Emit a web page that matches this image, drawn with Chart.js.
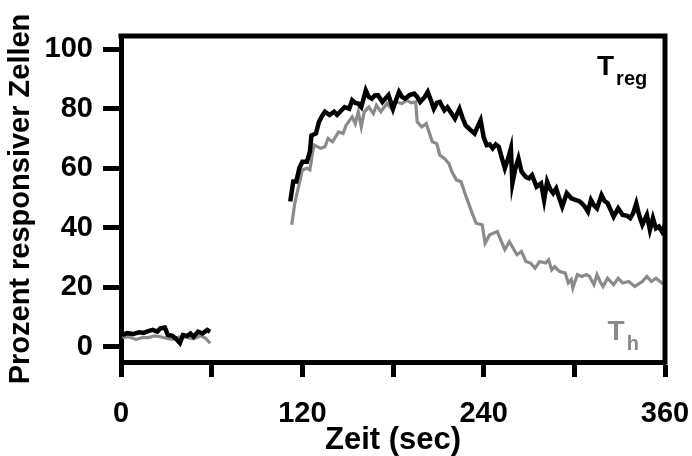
<!DOCTYPE html>
<html>
<head>
<meta charset="utf-8">
<script src="https://cdn.jsdelivr.net/npm/chart.js@4.4.1/dist/chart.umd.min.js"></script>
<style>
    body { margin: 0; background: #ffffff; }
    #chartBox { width: 692px; height: 456px; }
</style>
</head>
<body>
<div id="chartBox"><canvas id="calciumChart" width="692" height="456"></canvas></div>
<script>
// Time (sec) and percent of responsive cells
// null marks the gap between the two recording windows
var tregTime = [1, 4, 8, 12, 15, 18, 21, 24, 26, 29, 31, 34, 36, 39, 41, 44, 46, 48, 51, 54, 57, 59,
    85,
    112, 114, 116, 118, 120, 123, 125, 126, 129, 131, 133, 135, 138, 141, 143, 145, 148, 151, 153, 155,
    157, 159, 162, 164, 166, 168, 170, 173, 175, 177, 180, 182, 184, 186, 188, 191, 194, 196, 198, 201,
    203, 205, 207, 209, 211, 214, 216, 218, 221, 224, 226, 228, 231, 234, 236, 238, 240, 242, 244, 246,
    248, 250, 252, 254, 256, 258, 259, 261, 263, 265, 266, 268, 270, 272, 275, 278, 280, 282, 284, 286,
    288, 290, 292, 295, 298, 301, 303, 305, 307, 309, 311, 313, 315, 318, 320, 322, 324, 326, 329, 331,
    332, 335, 337, 339, 341, 343, 345, 348, 350, 352, 354, 356, 358, 360];
var tregValues = [3.9, 4.5, 4.2, 4.8, 4.6, 5.2, 5.6, 5.0, 6.1, 6.4, 3.9, 3.6, 2.8, 1.2, 3.9, 3.6, 4.4, 3.3, 5.0, 4.4, 5.6, 5.0,
    null,
    48.8, 55.5, 55.5, 60, 62.2, 62.2, 65.5, 71, 71.7, 75.6, 77.5, 79, 77.9, 79, 78, 79, 80.6, 80, 82.9, 82,
    81.8, 80.6, 86.2, 84, 83.4, 84.5, 84.6, 82.3, 83.5, 84.6, 80, 83, 85.7, 84, 83.4, 84.6, 85.1, 84, 82.3, 84,
    85.7, 83, 80, 82, 82.3, 79.5, 80.5, 79, 76.7, 80, 77, 74.5, 73, 71.7, 74, 76.2, 70.5, 67.8, 68, 66.7,
    68, 67.2, 63.5, 60, 63, 66.7, 54.9, 60, 63.3, 59, 58.3, 57, 56.6, 57.7, 53.8, 54.9, 49.3, 55.5, 53, 51.6,
    53.2, 50, 47.1, 51.6, 49.9, 49.3, 49, 48.2, 47, 45.4, 49.3, 47.5, 46.5, 51, 49, 48.2, 46, 43.7, 46.5, 45,
    44.3, 44, 43.2, 45, 48.2, 44, 41, 44.3, 39.3, 43.2, 39.8, 40.4, 38.7, 41];

var thTime = [1, 5, 10, 14, 18, 22, 26, 30, 34, 38, 41, 45, 48, 51, 53, 56, 59,
    85,
    113, 115, 117, 120, 123, 125, 127, 128, 132, 135, 137, 140, 144, 147, 149, 153, 155, 157, 159, 161,
    164, 167, 169, 172, 176, 179, 182, 186, 189, 192, 195, 196, 199, 202, 206, 209, 211, 214, 217, 219,
    222, 225, 228, 230, 232, 235, 239, 241, 244, 249, 254, 257, 262, 265, 268, 271, 274, 277, 281, 283,
    285, 287, 290, 294, 296, 298, 299, 302, 305, 308, 310, 313, 315, 317, 319, 322, 326, 329, 332, 336,
    340, 345, 348, 351, 354, 358, 360];
var thValues = [3, 3.3, 2.4, 3, 3, 3.6, 3.3, 2.8, 2.4, 3.2, 3.3, 2.9, 2.6, 3.2, 3.6, 2.8, 1.1,
    null,
    41, 48.2, 52.7, 59.4, 60, 59.4, 66, 67.8, 66.7, 67.2, 70, 68.9, 72.2, 71.7, 74.5, 77.3, 75, 79, 73.9, 79,
    80.6, 78.4, 81.2, 79, 81.8, 80, 82.3, 81.8, 82.9, 82, 82.3, 75.6, 73.9, 75, 68.9, 68.3, 64.4, 63.3, 61.6, 58.8,
    56, 55.5, 51, 48.2, 45.4, 41.5, 41, 34.8, 37.6, 38.7, 32.6, 35.3, 30.9, 32, 28.6, 28.1, 26.4, 28.6, 28.1, 29.2,
    25.8, 26.9, 25.3, 24.7, 21.4, 22.5, 19.7, 24.2, 23.6, 24.2, 23.6, 20.8, 24.2, 21.9, 20.2, 23, 20.8, 23, 21.4, 21.9,
    20.2, 21.9, 23.6, 21.9, 23, 21.4, 22];

// Axis ticks
var xTickStep = 60;
var xLabelStep = 120;
var yTicks = [0, 20, 40, 60, 80, 100];

// Labels written inside the plot: main letter, subscript, colour, position in data units
var seriesLabels = [
    { main: "T", sub: "reg", color: "#000000", x: 315, y: 91.5 },
    { main: "T", sub: "h", color: "#8a8a8a", x: 322, y: 2.2 }
];

var fontFamily = "'Liberation Sans', Arial, Helvetica, sans-serif";

function toPoints(times, values)
{
    return times.map(function(t, i) {
        return { x: t, y: values[i] };
    });
}

// Draws the top and right sides of the frame and the T labels
var frameAndLabels = {
    id: 'frameAndLabels',
    afterDraw: function(chart) {
        var ctx = chart.ctx;
        var area = chart.chartArea;
        var xScale = chart.scales.x;
        var yScale = chart.scales.y;

        ctx.save();
        ctx.strokeStyle = "#000000";
        ctx.lineWidth = 5;
        ctx.lineCap = "square";
        ctx.beginPath();
        ctx.moveTo(area.left, area.top);
        ctx.lineTo(area.right, area.top);
        ctx.lineTo(area.right, area.bottom);
        ctx.stroke();

        seriesLabels.forEach(function(label) {
            var px = xScale.getPixelForValue(label.x);
            var py = yScale.getPixelForValue(label.y);
            ctx.fillStyle = label.color;
            ctx.textBaseline = "alphabetic";
            ctx.textAlign = "left";
            ctx.font = "bold 28px " + fontFamily;
            ctx.fillText(label.main, px, py);
            var w = ctx.measureText(label.main).width;
            ctx.font = "bold 20px " + fontFamily;
            ctx.fillText(label.sub, px + w + 2, py + 10);
        });
        ctx.restore();
    }
};

var ctx = document.getElementById("calciumChart").getContext("2d");

var calciumChart = new Chart(ctx, {
    type: 'line',
    data: {
        datasets: [
            {
                label: 'Treg',
                data: toPoints(tregTime, tregValues),
                borderColor: '#000000',
                borderWidth: 4.5,
                pointRadius: 0,
                tension: 0,
                spanGaps: false,
                order: 0
            },
            {
                label: 'Th',
                data: toPoints(thTime, thValues),
                borderColor: '#8a8a8a',
                borderWidth: 3.2,
                pointRadius: 0,
                tension: 0,
                spanGaps: false,
                order: 1
            }
        ]
    },
    options: {
        responsive: false,
        animation: false,
        devicePixelRatio: 1,
        layout: {
            padding: { top: 36, right: 27, left: 0, bottom: 0 }
        },
        plugins: {
            legend: { display: false },
            tooltip: { enabled: false }
        },
        scales: {
            x: {
                type: 'linear',
                min: 0,
                max: 360,
                afterFit: function(scale) {
                    scale.height = 94;
                    scale.paddingLeft = 0;
                    scale.paddingRight = 0;
                },
                border: { display: true, color: '#000000', width: 5 },
                grid: {
                    drawOnChartArea: false,
                    drawTicks: true,
                    tickLength: 15,
                    tickWidth: 5,
                    tickColor: '#000000'
                },
                ticks: {
                    stepSize: xTickStep,
                    color: '#000000',
                    padding: 20,
                    maxRotation: 0,
                    autoSkip: false,
                    font: { family: fontFamily, size: 29, weight: 'bold' },
                    callback: function(value) {
                        return value % xLabelStep === 0 ? String(value) : '';
                    }
                },
                title: {
                    display: true,
                    text: 'Zeit (sec)',
                    color: '#000000',
                    padding: { top: 0, bottom: 0 },
                    font: { family: fontFamily, size: 31, weight: 'bold', lineHeight: 1.0 }
                }
            },
            y: {
                type: 'linear',
                min: -5.2,
                max: 104.5,
                afterFit: function(scale) {
                    scale.width = 121;
                    scale.paddingTop = 0;
                    scale.paddingBottom = 0;
                },
                afterBuildTicks: function(scale) {
                    scale.ticks = yTicks.map(function(v) { return { value: v }; });
                },
                border: { display: true, color: '#000000', width: 5 },
                grid: {
                    drawOnChartArea: false,
                    drawTicks: true,
                    tickLength: 18,
                    tickWidth: 5,
                    tickColor: '#000000'
                },
                ticks: {
                    color: '#000000',
                    padding: 10,
                    font: { family: fontFamily, size: 29, weight: 'bold' }
                },
                title: {
                    display: true,
                    text: 'Prozent responsiver Zellen',
                    color: '#000000',
                    padding: { top: 4, bottom: 0 },
                    font: { family: fontFamily, size: 29, weight: 'bold', lineHeight: 1.2 }
                }
            }
        }
    },
    plugins: [frameAndLabels]
});
</script>
</body>
</html>
